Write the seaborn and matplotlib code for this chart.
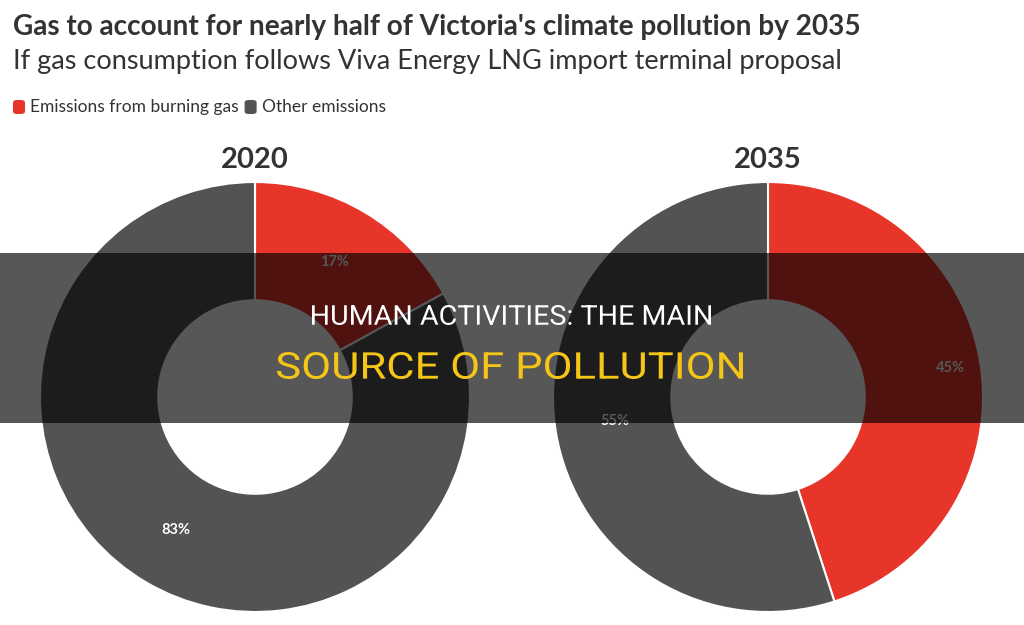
import matplotlib
matplotlib.use("Agg")
import matplotlib.pyplot as plt
import seaborn as sns
import numpy as np
from matplotlib.patches import Rectangle, FancyBboxPatch, PathPatch
from matplotlib.textpath import TextPath
from matplotlib.font_manager import FontProperties
from matplotlib.transforms import Affine2D, IdentityTransform

# data
years = ["2020", "2035"]
categories = ["Emissions from burning gas", "Other emissions"]
gas_share = [17, 45]
other_share = [83, 55]
label_radius = [[0.73, 0.72], [0.86, 0.72]]

title = "Gas to account for nearly half of Victoria's climate pollution by 2035"
subtitle = "If gas consumption follows Viva Energy LNG import terminal proposal"
overlay_line1 = "HUMAN ACTIVITIES: THE MAIN"
overlay_line2 = "SOURCE OF POLLUTION"

sns.set_theme(style="white")
plt.rcParams["font.family"] = ["Lato", "DejaVu Sans"]

palette = ["#e8352a", "#535353"]
text_dark = "#333333"

W, H = 1024, 625
fig = plt.figure(figsize=(W / 100, H / 100), dpi=100)
fig.patch.set_facecolor("white")


def fx(px):
    return px / W


def fy(py):
    return 1 - py / H


fig.text(fx(13), fy(27), title, fontsize=20.2, fontweight="bold",
         color=text_dark, va="center", ha="left")
fig.text(fx(13), fy(61), subtitle, fontsize=19.5, color=text_dark,
         va="center", ha="left")

# legend
lx = 13
for name, col in zip(categories, palette):
    fig.patches.append(FancyBboxPatch((fx(lx), fy(114)), fx(12), 14 / H,
                                      boxstyle="round,pad=0,rounding_size=0.004",
                                      transform=fig.transFigure, facecolor=col,
                                      edgecolor="none"))
    t = fig.text(fx(lx + 17), fy(107), name, fontsize=12.5, color=text_dark,
                 va="center", ha="left")
    fig.canvas.draw()
    bb = t.get_window_extent()
    lx = bb.x1 + 6

centers = [255, 768]
radius_px = 215
for i, year in enumerate(years):
    cx = centers[i]
    ax = fig.add_axes([fx(cx - radius_px), fy(397 + radius_px),
                       2 * radius_px / W, 2 * radius_px / H])
    vals = [gas_share[i], other_share[i]]
    wedges, _ = ax.pie(vals, colors=palette, startangle=90, counterclock=False,
                       radius=1, wedgeprops=dict(width=0.55, edgecolor="white",
                                                 linewidth=1.5))
    # percentage labels at wedge mid-angle
    start = 90.0
    for j, v in enumerate(vals):
        mid = np.deg2rad(start - v * 3.6 / 2)
        r = label_radius[i][j]
        ax.text(r * np.cos(mid), r * np.sin(mid), f"{v}%", color="white",
                fontsize=10.5, fontweight="bold", ha="center", va="center")
        start -= v * 3.6
    ax.set_xlim(-1, 1)
    ax.set_ylim(-1, 1)
    ax.set_aspect("equal")
    ax.axis("off")
    fig.text(fx(cx), fy(160), year, fontsize=21, fontweight="bold",
             color=text_dark, ha="center", va="center")

# dark banner overlay
band = Rectangle((0, fy(423)), 1, (423 - 253) / H, transform=fig.transFigure,
                 facecolor="black", alpha=0.66, edgecolor="none", zorder=10)
fig.add_artist(band)


def condensed_text(s, box, color):
    # draw text squeezed into a pixel box (x0, x1, ytop, ybottom)
    x0, x1, yt, yb = box
    tp = TextPath((0, 0), s, size=100, prop=FontProperties(family="Roboto"))
    ext = tp.get_extents()
    tr = (Affine2D().translate(-ext.x0, -ext.y0)
          .scale((x1 - x0) / ext.width, (yb - yt) / ext.height)
          .translate(x0, H - yb))
    patch = PathPatch(tr.transform_path(tp), facecolor=color, edgecolor="none",
                      transform=IdentityTransform(), zorder=11)
    fig.add_artist(patch)


condensed_text(overlay_line1, (312, 711, 305, 325), "white")
condensed_text(overlay_line2, (277, 743, 352, 379), "#f5c518")

fig.savefig("out.png", dpi=100, facecolor="white")
